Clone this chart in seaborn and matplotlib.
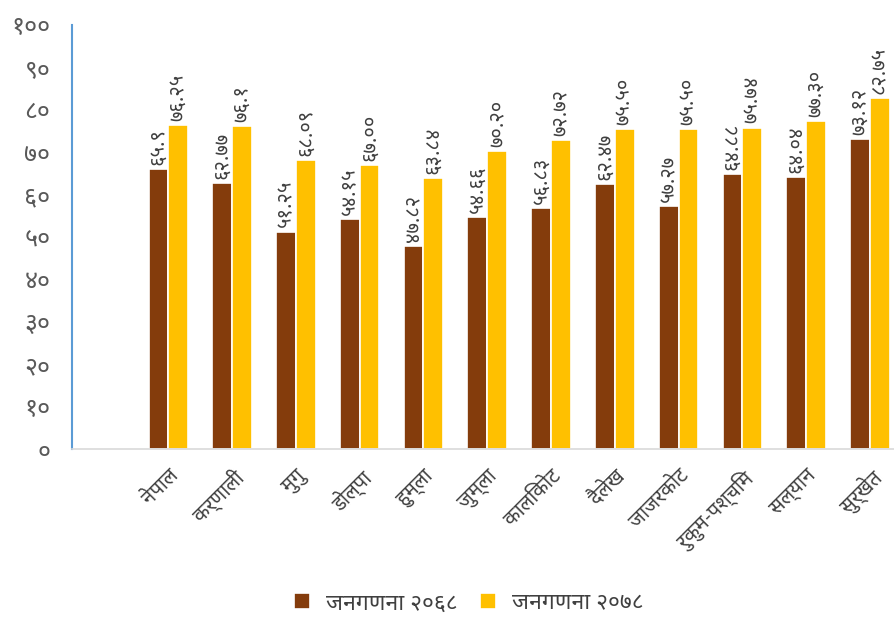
import pandas as pd
import matplotlib
matplotlib.use('Agg')
import matplotlib.pyplot as plt
from matplotlib import font_manager
from matplotlib.ft2font import FT2Font
import seaborn as sns

# data
districts = ['नेपाल', 'कर्णाली', 'मुगु', 'डोल्पा', 'हुम्ला', 'जुम्ला', 'कालिकोट',
             'दैलेख', 'जाजरकोट', 'रुकुम-पश्चिम', 'सल्यान', 'सुर्खेत']
census_2068 = ['65.9', '62.77', '51.25', '54.15', '47.82', '54.66', '56.83',
               '62.47', '57.27', '64.88', '64.04', '73.12']
census_2078 = ['76.25', '76.1', '68.09', '67.00', '63.84', '70.20', '72.72',
               '75.50', '75.50', '75.74', '77.30', '82.75']
series_names = ['जनगणना २०६८', 'जनगणना २०७८']
y_ticks = [0, 10, 20, 30, 40, 50, 60, 70, 80, 90, 100]

DEV = str.maketrans('0123456789', '०१२३४५६७८९')


def dev(s):
    return str(s).translate(DEV)


# find installed families with Devanagari glyphs, prefer dedicated ones
cands = []
for f in font_manager.fontManager.ttflist:
    try:
        cmap = FT2Font(f.fname).get_charmap()
    except Exception:
        continue
    if ord('न') in cmap and ord('६') in cmap:
        cands.append(f.name)


def rank(name):
    n = name.lower()
    for i, key in enumerate(['noto sans devanagari', 'mukta', 'lohit', 'devanagari', 'mangal', 'freesans']):
        if key in n:
            return i
    return 99


cands = sorted(set(cands), key=lambda n: (rank(n), n))

sns.set_style('white')
plt.rcParams['font.family'] = cands[:1] + ['Noto Sans', 'DejaVu Sans']

df = pd.DataFrame({
    'district': districts * 2,
    'value': [float(v) for v in census_2068 + census_2078],
    'census': [series_names[0]] * len(districts) + [series_names[1]] * len(districts),
})

fig = plt.figure(figsize=(8.95, 6.17), dpi=100)
ax = fig.add_axes([0.081, 0.272, 0.919, 0.688])

sns.barplot(data=df, x='district', y='value', hue='census',
            palette=['#843C0C', '#FFC000'], saturation=1, width=0.62,
            edgecolor='white', linewidth=1.2, ax=ax)

for cont, labels in zip(ax.containers, [census_2068, census_2078]):
    ax.bar_label(cont, labels=[dev(s) for s in labels], rotation=90,
                 padding=3, fontsize=14.5, color='#404040')

ax.set_ylim(0, 100)
ax.set_xlim(-1.505, len(districts) - 0.605)
ax.set_yticks(y_ticks)
ax.set_yticklabels([dev(t) for t in y_ticks], fontsize=18, color='#595959')
ax.set_xticks(range(len(districts)))
ax.set_xticklabels(districts, rotation=45, ha='right', rotation_mode='anchor',
                   fontsize=14.5, color='#404040')
ax.tick_params(axis='x', length=0, pad=12)
ax.tick_params(axis='y', length=6, width=1.5, color='#5B9BD5', direction='out', pad=10)
ax.set_xlabel('')
ax.set_ylabel('')

for s in ['top', 'right']:
    ax.spines[s].set_visible(False)
ax.spines['left'].set_color('#5B9BD5')
ax.spines['left'].set_linewidth(1.5)
ax.spines['bottom'].set_color('#D9D9D9')
ax.spines['bottom'].set_linewidth(1.2)

handles, _ = ax.get_legend_handles_labels()
ax.legend(handles, series_names, loc='lower center', bbox_to_anchor=(0.482, -0.44),
          ncol=2, frameon=False, fontsize=16.5, handlelength=0.7, handleheight=0.7,
          handletextpad=0.7, columnspacing=1.0, labelcolor='#404040')

fig.savefig('out.png', dpi=100)
